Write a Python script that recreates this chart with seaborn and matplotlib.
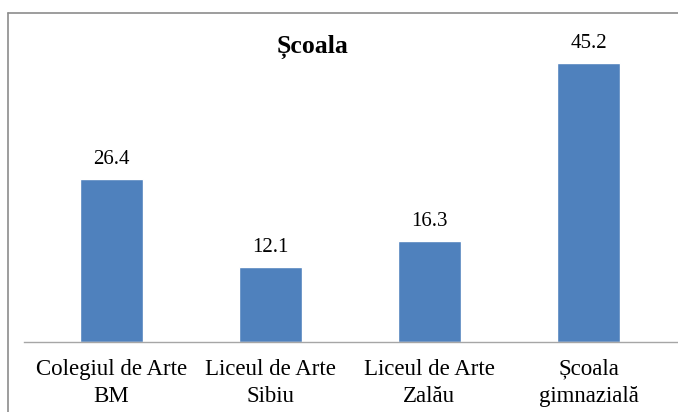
import matplotlib
matplotlib.use("Agg")
import matplotlib.pyplot as plt
import matplotlib.transforms as mtransforms
import seaborn as sns
import pandas as pd
from matplotlib.lines import Line2D

categories = ["Colegiul de Arte\nBM", "Liceul de Arte\nSibiu", "Liceul de Arte\nZalău", "Școala\ngimnazială"]
values = [26.4, 12.1, 16.3, 45.2]
title = "Școala"

sns.set_theme(style="white")
plt.rcParams['font.family'] = 'serif'
plt.rcParams['font.serif'] = ['Liberation Serif', 'DejaVu Serif']

W, H = 678, 412
fig = plt.figure(figsize=(W / 100, H / 100), dpi=100)
ax = fig.add_axes([24 / W, (H - 341.7) / H, 654 / W, 321.7 / H])

df = pd.DataFrame({"cat": categories, "val": values})
sns.barplot(data=df, x="cat", y="val", color="#4F81BD", saturation=1, width=0.4, ax=ax)

ax.set_xlim(-0.55, 3.563)
ax.set_ylim(0, 52.17)
ax.set_xlabel("")
ax.set_ylabel("")
ax.set_yticks([])
ax.tick_params(axis="x", length=0, labelbottom=False)

# category labels drawn as text so the line spacing can be controlled
trans = mtransforms.blended_transform_factory(ax.transData, ax.transAxes)
offset = mtransforms.ScaledTranslation(0, -17 / 100, fig.dpi_scale_trans)
for i, c in enumerate(categories):
    ax.text(i, 0, c, transform=trans + offset, ha="center", va="top",
            fontsize=16.5, color="black", linespacing=1.4)

for s in ["left", "right", "top"]:
    ax.spines[s].set_visible(False)
ax.spines["bottom"].set_color("#A6A6A6")
ax.spines["bottom"].set_linewidth(1.0)

for i, v in enumerate(values):
    ax.annotate(f"{v:.1f}", (i, v), xytext=(0, 7), textcoords="offset points",
                ha="center", va="bottom", fontsize=15, color="black")

fig.text(313 / W, (H - 47) / H, title, ha="center", va="center",
         fontsize=18.5, fontweight="bold", color="black")

# outer chart border (cropped on right and bottom)
fig.add_artist(Line2D([8 / W, 8 / W], [0, (H - 13) / H], transform=fig.transFigure,
                      color="#8C8C8C", linewidth=1.2))
fig.add_artist(Line2D([8 / W, 1], [(H - 13) / H, (H - 13) / H], transform=fig.transFigure,
                      color="#8C8C8C", linewidth=1.2))

fig.savefig("out.png", dpi=100, facecolor="white")
